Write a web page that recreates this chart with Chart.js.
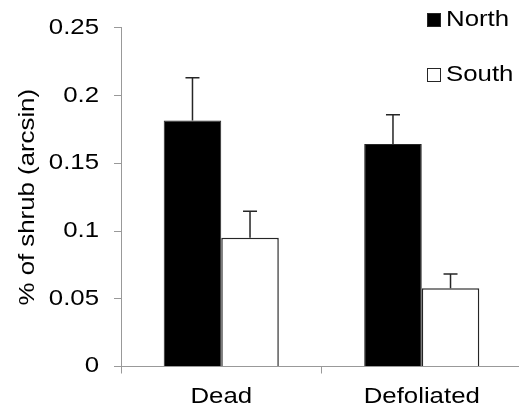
<!DOCTYPE html>
<html>
<head>
<meta charset="utf-8">
<script src="https://cdn.jsdelivr.net/npm/chart.js@4/dist/chart.umd.min.js"></script>
<style>
  html, body { margin: 0; padding: 0; background: #fff; overflow: hidden; }
  #wrap { width: 522px; height: 413px; }
</style>
</head>
<body>
<div id="wrap"><canvas id="c" width="522" height="413"></canvas></div>
<script>
// Shrub damage by aspect
const categories = ['Dead', 'Defoliated'];
const seriesNames = ['North', 'South'];
const northValues = [0.1817, 0.1642];
const southValues = [0.0951, 0.0578];
const northErr = [0.0315, 0.0216];
const southErr = [0.0195, 0.0105];
const yTickLabels = ['0', '0.05', '0.1', '0.15', '0.2', '0.25'];

const FONT = { family: "'Liberation Sans', Arial, sans-serif", size: 21.5 };
const TEXT = '#000';
const AXIS = '#999';
const WIDE = 1.2; // horizontal stretch of the lettering

const canvas = document.getElementById('c');
const ctx = canvas.getContext('2d');

// Wide lettering: every text run is drawn with a horizontal scale along its own baseline,
// and measured the same way so the layout reserves the right room.
const rawFill = ctx.fillText.bind(ctx);
const rawMeasure = ctx.measureText.bind(ctx);
ctx.fillText = function (t, x, y) {
  this.save();
  this.translate(x, y);
  this.scale(WIDE, 1);
  rawFill(t, 0, 0);
  this.restore();
};
ctx.measureText = function (t) {
  const m = rawMeasure(t);
  return {
    width: m.width * WIDE,
    actualBoundingBoxAscent: m.actualBoundingBoxAscent,
    actualBoundingBoxDescent: m.actualBoundingBoxDescent,
    actualBoundingBoxLeft: m.actualBoundingBoxLeft * WIDE,
    actualBoundingBoxRight: m.actualBoundingBoxRight * WIDE,
    fontBoundingBoxAscent: m.fontBoundingBoxAscent,
    fontBoundingBoxDescent: m.fontBoundingBoxDescent
  };
};

// Upper standard-error whiskers
const errorBars = {
  id: 'errorBars',
  afterDatasetsDraw(chart) {
    const c = chart.ctx;
    const y = chart.scales.y;
    chart.data.datasets.forEach((ds, d) => {
      const meta = chart.getDatasetMeta(d);
      meta.data.forEach((bar, i) => {
        const top = y.getPixelForValue(ds.data[i] + ds.errors[i]);
        c.save();
        c.strokeStyle = '#262626';
        c.lineWidth = 1.5;
        c.beginPath();
        c.moveTo(bar.x, bar.y);
        c.lineTo(bar.x, top);
        c.moveTo(bar.x - 7, top);
        c.lineTo(bar.x + 7, top);
        c.stroke();
        c.restore();
      });
    });
  }
};

// Stacked key in the upper right corner
const cornerKey = {
  id: 'cornerKey',
  afterDraw(chart, args, opts) {
    const c = chart.ctx;
    chart.data.datasets.forEach((ds, d) => {
      const top = opts.top + d * opts.step;
      c.save();
      c.fillStyle = ds.backgroundColor;
      c.fillRect(opts.x, top, opts.box, opts.box);
      c.strokeStyle = ds.borderColor;
      c.lineWidth = 1;
      c.strokeRect(opts.x + 0.5, top + 0.5, opts.box - 1, opts.box - 1);
      c.fillStyle = TEXT;
      c.font = `${FONT.size}px ${FONT.family}`;
      c.textAlign = 'left';
      c.textBaseline = 'middle';
      c.fillText(ds.label, opts.x + opts.box + 5, top + opts.box / 2 + 0.5);
      c.restore();
    });
  }
};

new Chart(canvas, {
  type: 'bar',
  data: {
    labels: categories,
    datasets: [
      {
        label: seriesNames[0],
        data: northValues,
        errors: northErr,
        backgroundColor: '#000',
        borderColor: '#262626',
        borderWidth: 1
      },
      {
        label: seriesNames[1],
        data: southValues,
        errors: southErr,
        backgroundColor: '#fff',
        borderColor: '#262626',
        borderWidth: 1.5
      }
    ]
  },
  options: {
    responsive: false,
    animation: false,
    devicePixelRatio: 1,
    layout: { padding: { top: 25, left: 0, right: 0, bottom: 0 } },
    datasets: { bar: { categoryPercentage: 0.574, barPercentage: 1.0 } },
    plugins: {
      legend: { display: false },
      tooltip: { enabled: false },
      cornerKey: { x: 427, top: 13, step: 55, box: 14 }
    },
    scales: {
      x: {
        grid: { display: true, drawOnChartArea: false, drawTicks: true, tickLength: 7, color: AXIS, offset: true },
        border: { display: true, color: AXIS, width: 1 },
        ticks: { color: TEXT, font: FONT, padding: 11, maxRotation: 0 },
        afterFit(s) { s.height = 46.5; }
      },
      y: {
        min: 0,
        max: 0.25,
        grid: { display: true, drawOnChartArea: false, drawTicks: true, tickLength: 7, color: AXIS },
        border: { display: true, color: AXIS, width: 1 },
        ticks: {
          stepSize: 0.05,
          color: TEXT,
          font: FONT,
          padding: 15,
          callback: (v, i) => yTickLabels[i]
        },
        title: {
          display: true,
          text: '% of shrub (arcsin)',
          color: TEXT,
          font: FONT,
          padding: { top: 15, bottom: 0 }
        },
        afterFit(s) { s.width = 121; }
      }
    }
  },
  plugins: [errorBars, cornerKey]
});
</script>
</body>
</html>
